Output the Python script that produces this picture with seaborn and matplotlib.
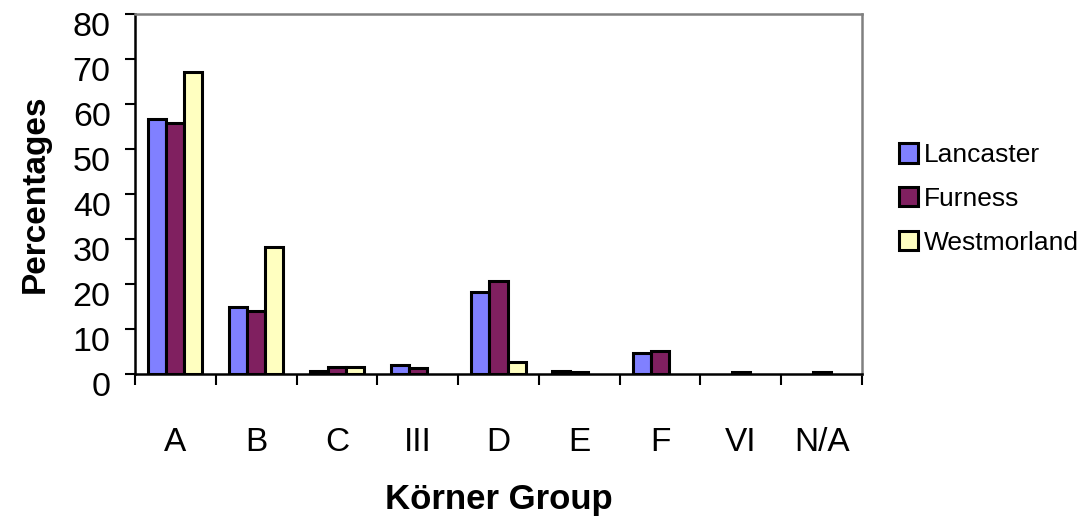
import matplotlib
matplotlib.use("Agg")
import matplotlib.pyplot as plt
import matplotlib.transforms as mtransforms
import seaborn as sns
import pandas as pd
import numpy as np
from matplotlib.patches import Patch

categories = ["A", "B", "C", "III", "D", "E", "F", "VI", "N/A"]
series = ["Lancaster", "Furness", "Westmorland"]
lancaster = [56.7, 14.9, 0.6, 2.0, 18.2, 0.7, 4.7, 0.0, 0.0]
furness = [55.8, 14.0, 1.6, 1.3, 20.7, 0.4, 5.1, 0.4, 0.4]
westmorland = [67.1, 28.2, 1.6, 0.0, 2.7, 0.0, 0.0, 0.0, 0.0]
colors = ["#8080FF", "#802060", "#FFFFC0"]
yticks = [0, 10, 20, 30, 40, 50, 60, 70, 80]

df = pd.DataFrame({
    "Group": categories * 3,
    "Region": sum([[s] * len(categories) for s in series], []),
    "Value": lancaster + furness + westmorland,
})

sns.set_style("white")
plt.rcParams["font.family"] = ["Liberation Sans", "DejaVu Sans"]
plt.rcParams["text.color"] = "black"
plt.rcParams["axes.labelcolor"] = "black"
plt.rcParams["xtick.color"] = "black"
plt.rcParams["ytick.color"] = "black"

fig = plt.figure(figsize=(10.88, 5.29), dpi=100)
ax = fig.add_axes([135 / 1088, 1 - 374 / 529, (862 - 135) / 1088, (374 - 14) / 529])

sns.barplot(data=df, x="Group", y="Value", hue="Region", order=categories,
            hue_order=series, palette=colors, width=0.67, edgecolor="black",
            linewidth=2.2, ax=ax, legend=False, saturation=1)

# bars with zero height are not drawn in the original
for p in ax.patches:
    if p.get_height() == 0:
        p.set_visible(False)

ax.set_xlim(-0.5, len(categories) - 0.5)
ax.set_ylim(0, 80)
ax.set_yticks(yticks)
ax.set_yticklabels([str(v) for v in yticks], fontsize=24.5)
ax.tick_params(axis="y", direction="out", length=7.5, width=1.5, color="black", pad=10, left=True)
offset = mtransforms.ScaledTranslation(0, -10 / 100, fig.dpi_scale_trans)
for lab in ax.get_yticklabels():
    lab.set_transform(lab.get_transform() + offset)

ax.set_xticks(np.arange(-0.5, len(categories), 1.0))
ax.set_xticklabels([])
ax.tick_params(axis="x", which="major", direction="out", length=8, width=1.5, color="black", bottom=True)
ax.set_xticks(np.arange(len(categories)), minor=True)
ax.set_xticklabels(categories, minor=True, fontsize=24)
ax.tick_params(axis="x", which="minor", length=0, pad=38)

for s in ["left", "bottom"]:
    ax.spines[s].set_color("black")
    ax.spines[s].set_linewidth(1.8)
for s in ["top", "right"]:
    ax.spines[s].set_color("#808080")
    ax.spines[s].set_linewidth(1.8)

ax.set_xlabel("Körner Group", fontsize=25, fontweight="bold", labelpad=18)
ax.set_ylabel("Percentages", fontsize=24, fontweight="bold", labelpad=16)

handles = [Patch(facecolor=c, edgecolor="black", linewidth=2.2) for c in colors]
fig.legend(handles, series, loc="center left", bbox_to_anchor=(888 / 1088, 1 - 199 / 529),
           frameon=False, fontsize=19, handlelength=0.75, handleheight=0.75,
           handletextpad=0.2, labelspacing=0.75, borderaxespad=0)

fig.savefig("out.png", dpi=100)
